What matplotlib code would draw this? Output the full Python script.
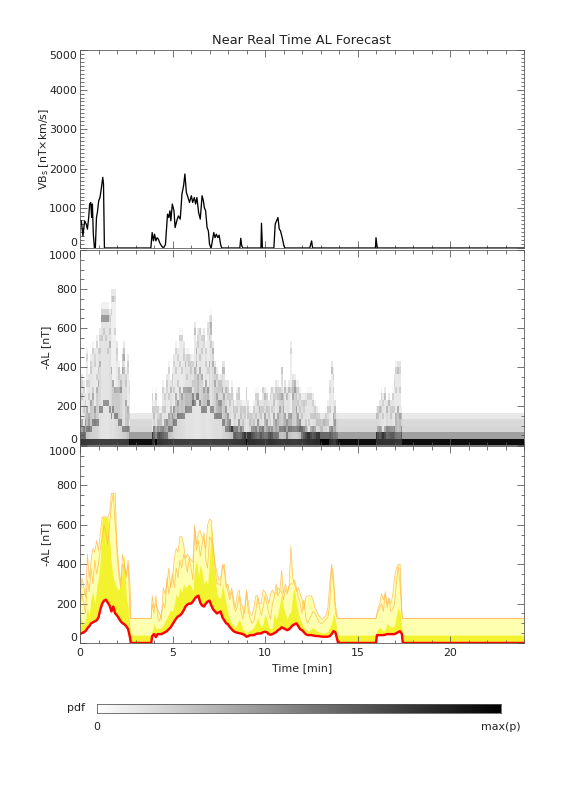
import numpy as np
import matplotlib
matplotlib.use('Agg')
import matplotlib.pyplot as plt
from matplotlib.ticker import MultipleLocator, FuncFormatter

plt.rcParams['font.family'] = ['DejaVu Sans']
plt.rcParams['font.size'] = 11

# ---------------- data ----------------
# Top panel: solar wind driver VBs
t_vbs = [0.0, 0.07, 0.16, 0.25, 0.34, 0.40, 0.47, 0.52, 0.58, 0.63, 0.67, 0.72, 0.78, 0.83, 0.89, 0.94,
         1.01, 1.08, 1.16, 1.23, 1.27, 1.32,
         3.83, 3.9, 3.97, 4.03, 4.1, 4.17, 4.24, 4.31, 4.41, 4.51, 4.62, 4.73, 4.8, 4.86, 4.91, 4.99,
         5.08, 5.14, 5.23, 5.32, 5.42, 5.51, 5.6, 5.67, 5.75, 5.84, 5.92, 6.02, 6.09, 6.18, 6.25, 6.32,
         6.41, 6.5, 6.6, 6.67, 6.72, 6.79, 6.87, 6.94, 7.0, 7.09, 7.23, 7.3, 7.37, 7.45, 7.52, 7.6, 7.66,
         8.64, 8.69, 8.74, 8.8,
         9.78, 9.81, 9.86,
         10.48, 10.55, 10.6, 10.7, 10.77, 10.84, 10.93, 11.02, 11.07,
         12.42, 12.47, 12.52, 12.57,
         15.97, 16.0, 16.06, 16.1,
         24.0]
vbs = [700, 685, 305, 685, 600, 475, 770, 1110, 1150, 770, 1110, 350, 0, 0, 770, 900,
       1190, 1275, 1530, 1785, 1615, 0,
       0, 390, 180, 350, 180, 260, 220, 130, 50, 0, 90, 855, 770, 940, 685, 1110,
       940, 515, 685, 810, 730, 1360, 1575, 1870, 1400, 1275, 1150, 1320, 1150, 1275, 1110, 1275,
       900, 730, 1320, 1190, 1020, 940, 515, 430, 95, 0, 390, 260, 350, 260, 325, 90, 0,
       0, 245, 60, 0,
       0, 625, 0,
       0, 600, 660, 770, 480, 430, 260, 60, 0,
       0, 95, 180, 0,
       0, 260, 30, 0,
       0]

# Forecast AL distribution: sample times (min)
t_band = np.concatenate([
    np.arange(0, 28) / 10.0, [2.75, 3.85],
    np.arange(39, 140) / 10.0, [13.95, 16.0],
    [16.05], np.arange(161, 175) / 10.0, [17.45, 24.0]])

# median (red line)
al_median = [45, 50, 55, 60, 75, 85, 100, 105, 110, 115, 130, 170, 200, 215, 220, 205, 190, 160, 185, 150,
             140, 125, 110, 100, 95, 85, 70, 30, 0, 0,
             35, 45, 30, 45, 45, 45, 50, 55, 60, 70, 80,
             95, 110, 125, 135, 140, 150, 165, 185, 195, 200,
             200, 210, 225, 235, 240, 205, 190, 185, 200, 210,
             215, 190, 170, 160, 150, 155, 160, 130, 115, 100,
             95, 80, 70, 60, 55, 52, 50, 48, 45, 40,
             32, 35, 40, 40, 40, 45, 48, 48, 50, 55,
             57, 55, 45, 42, 45, 50, 55, 65, 70, 80,
             75, 70, 65, 70, 80, 90, 95, 100, 85, 70,
             65, 55, 45, 40, 40, 40, 38, 36, 35, 35,
             33, 32, 32, 32, 32, 35, 45, 60, 55, 20,
             0, 0,
             40, 40, 40, 40, 40, 42, 45, 45, 45, 45, 45, 50, 55, 60, 45,
             0, 0]
# inner band top (yellow)
al_inner = [150, 110, 90, 120, 180, 140, 230, 260, 200, 280, 330, 420, 640, 640, 640, 640, 520, 400, 330, 300,
            280, 270, 300, 380, 450, 230, 180, 80, 40, 40,
            60, 100, 70, 80, 70, 80, 90, 110, 130, 150, 170,
            160, 200, 250, 230, 280, 260, 300, 280, 290, 300,
            290, 260, 380, 420, 340, 400, 360, 300, 320, 300,
            420, 600, 420, 330, 250, 230, 230, 300, 250, 200,
            150, 120, 100, 90, 80, 100, 120, 100, 70, 60,
            50, 60, 65, 70, 80, 100, 130, 100, 80, 100,
            150, 120, 80, 70, 80, 150, 120, 150, 200, 250,
            180, 150, 120, 150, 160, 250, 280, 200, 150, 120,
            100, 80, 70, 60, 60, 70, 80, 70, 60, 55,
            55, 50, 50, 55, 60, 80, 100, 150, 120, 60,
            40, 40,
            60, 70, 80, 70, 60, 70, 100, 90, 80, 80, 90, 140, 180, 160, 80,
            40, 40]
# outer band curves (light yellow, orange outlines)
al_outer1 = [180, 250, 200, 150, 320, 260, 380, 300, 420, 350, 400, 480, 540, 600, 560, 500, 600, 700, 760, 600,
             500, 380, 300, 450, 400, 330, 420, 150, 125, 125,
             200, 150, 240, 130, 110, 150, 200, 180, 330, 250, 300,
             350, 280, 380, 330, 420, 380, 450, 420, 360, 430,
             380, 320, 580, 470, 520, 440, 500, 560, 420, 380,
             540, 520, 500, 400, 360, 320, 330, 380, 400, 300,
             260, 220, 260, 200, 160, 180, 240, 160, 120, 180,
             250, 160, 120, 100, 110, 160, 230, 180, 140, 180,
             240, 200, 150, 120, 200, 230, 300, 240, 260, 370,
             250, 300, 260, 290, 300, 300, 320, 280, 230, 200,
             150, 220, 130, 100, 120, 140, 160, 150, 130, 110,
             100, 100, 110, 120, 130, 200, 380, 300, 200, 130,
             125, 125,
             140, 160, 180, 200, 160, 260, 180, 220, 160, 170, 200, 300, 390, 300, 150,
             125, 125]
al_outer2 = [200, 330, 290, 230, 450, 330, 420, 480, 460, 520, 470, 560, 640, 640, 640, 640, 660, 760, 760, 760,
             450, 340, 280, 400, 380, 350, 400, 300, 125, 125,
             240, 180, 200, 170, 150, 120, 280, 250, 300, 380, 280,
             320, 430, 480, 460, 540, 540, 500, 430, 450, 440,
             420, 410, 600, 500, 560, 570, 540, 520, 480, 600,
             630, 620, 470, 380, 300, 300, 290, 400, 370, 280,
             300, 240, 280, 220, 180, 250, 270, 200, 180, 150,
             270, 200, 150, 140, 180, 240, 240, 200, 200, 270,
             260, 240, 200, 250, 270, 250, 250, 280, 270, 260,
             220, 270, 250, 280, 490, 330, 300, 260, 280, 250,
             220, 170, 230, 240, 240, 240, 220, 180, 160, 140,
             130, 120, 130, 140, 180, 300, 400, 350, 150, 130,
             125, 125,
             150, 170, 200, 250, 220, 250, 200, 230, 200, 240, 330, 380, 400, 400, 150,
             125, 125]

x_ticks = [0, 5, 10, 15, 20]

# ---------------- layout ----------------
W, H = 576, 792
fig = plt.figure(figsize=(W / 72, H / 72), dpi=72)


def rect(x0, y0, x1, y1):
    return [x0 / W, 1 - y1 / H, (x1 - x0) / W, (y1 - y0) / H]


TXT = '#222222'
SP = '#555555'

ax1 = fig.add_axes(rect(80, 50, 524, 248))
ax2 = fig.add_axes(rect(80, 250, 524, 445))
ax3 = fig.add_axes(rect(80, 446, 524, 643))


def style(ax, ymax, ymaj, ymin, xlabels):
    ax.set_xlim(0, 24)
    ax.set_ylim(0, ymax)
    ax.xaxis.set_major_locator(MultipleLocator(5))
    ax.xaxis.set_minor_locator(MultipleLocator(1))
    ax.yaxis.set_major_locator(MultipleLocator(ymaj))
    ax.yaxis.set_minor_locator(MultipleLocator(ymin))
    ax.yaxis.set_major_formatter(FuncFormatter(
        lambda v, p: '' if (abs(v) < 1e-6 or abs(v - ymax) < 1e-6) else '%d' % round(v)))
    ax.tick_params(which='both', direction='in', top=True, right=True, colors=SP,
                   labelcolor=TXT, labelsize=11, width=0.8)
    ax.tick_params(which='major', length=7)
    ax.tick_params(which='minor', length=3.5)
    ax.tick_params(axis='y', which='major', pad=3)
    ax.tick_params(axis='x', which='major', pad=5)
    if not xlabels:
        ax.tick_params(labelbottom=False)
    for s in ax.spines.values():
        s.set_color(SP)
        s.set_linewidth(0.8)
    ax.yaxis.set_label_coords(-29 / 444, 0.5)
    # extreme labels nudged inside the panel as in the reference
    ax.annotate('0', xy=(0, 0), xycoords='axes fraction', xytext=(-3, 0),
                textcoords='offset points', ha='right', va='bottom', color=TXT, fontsize=11)
    ax.annotate('%d' % ymax, xy=(0, 1), xycoords='axes fraction', xytext=(-3, -1),
                textcoords='offset points', ha='right', va='top', color=TXT, fontsize=11)


# top panel
ax1.plot(t_vbs, vbs, color='black', lw=1.3)
style(ax1, 5000, 1000, 100, False)
ax1.set_ylabel('VB$_\\mathrm{s}$ [nT×km/s]', color=TXT, fontsize=11)

# middle panel: pdf image derived from the distribution curves
al_edges = np.linspace(0, 1000, 31)
t_arr = np.asarray(t_band)
t_edges = np.concatenate([[0], (t_arr[1:] + t_arr[:-1]) / 2, [24]])
pdf = np.zeros((len(al_edges) - 1, len(t_arr)))
for j in range(len(t_arr)):
    m = al_median[j]
    yi = al_inner[j]
    top = max(al_outer1[j], al_outer2[j])
    if m <= 20:
        kx = [0, 20]
        kf = [0, 0.5]
    else:
        kx = [0, 20, m]
        kf = [0, 0.5, 0.62]
    kx.append(max(yi, kx[-1] + 1)); kf.append(0.88)
    kx.append(max(top, kx[-1] + 40)); kf.append(0.98)
    kx.append(kx[-1] + 30); kf.append(1.0)
    F = np.interp(al_edges, kx, kf)
    col = np.diff(F) * 0.8
    if m > 20:
        # concentrations at the distribution's characteristic values
        for val, w in ((m, 0.14), (yi, 0.06), (al_outer1[j], 0.03), (al_outer2[j], 0.02)):
            k = min(int(val // (al_edges[1] - al_edges[0])), len(col) - 1)
            col[k] += w
    pdf[:, j] = col
shade = (pdf / pdf.max()) ** 0.6
ax2.pcolormesh(t_edges, al_edges, shade, cmap='gray_r', vmin=0, vmax=1, shading='flat')
style(ax2, 1000, 200, 50, False)
ax2.set_ylabel('-AL [nT]', color=TXT, fontsize=11)

# bottom panel: forecast bands
LY = '#FFFFB0'
YE = '#F2F22E'
OR = '#FFB84D'
outer_top = np.maximum(al_outer1, al_outer2)
ax3.fill_between(t_band, al_median, outer_top, color=LY, lw=0)
ax3.fill_between(t_band, al_median, al_inner, color=YE, lw=0)
ax3.plot(t_band, al_outer1, color=OR, lw=0.8, alpha=0.8)
ax3.plot(t_band, al_outer2, color=OR, lw=0.8, alpha=0.8)
ax3.plot(t_band, al_median, color='#FF0000', lw=2.4)
style(ax3, 1000, 200, 50, True)
ax3.set_xticks(x_ticks)
ax3.set_xticklabels([str(v) for v in x_ticks])
ax3.set_ylabel('-AL [nT]', color=TXT, fontsize=11)

fig.text(302 / W, 1 - 40 / H, 'Near Real Time AL Forecast', ha='center', va='center',
         color=TXT, fontsize=13)
fig.text(302 / W, 1 - 668 / H, 'Time [min]', ha='center', va='center', color=TXT, fontsize=11)

# colour bar
cax = fig.add_axes(rect(97, 704, 501, 713))
grad = np.linspace(0, 1, 256).reshape(1, -1)
cax.imshow(grad, aspect='auto', cmap='gray_r', extent=[0, 1, 0, 1])
cax.set_xticks([])
cax.set_yticks([])
for s in cax.spines.values():
    s.set_color(SP)
    s.set_linewidth(0.8)
fig.text(76 / W, 1 - 708 / H, 'pdf', ha='center', va='center', color=TXT, fontsize=11)
fig.text(97 / W, 1 - 727 / H, '0', ha='center', va='center', color=TXT, fontsize=11)
fig.text(501 / W, 1 - 727 / H, 'max(p)', ha='center', va='center', color=TXT, fontsize=11)

fig.savefig('out.png', dpi=72)
